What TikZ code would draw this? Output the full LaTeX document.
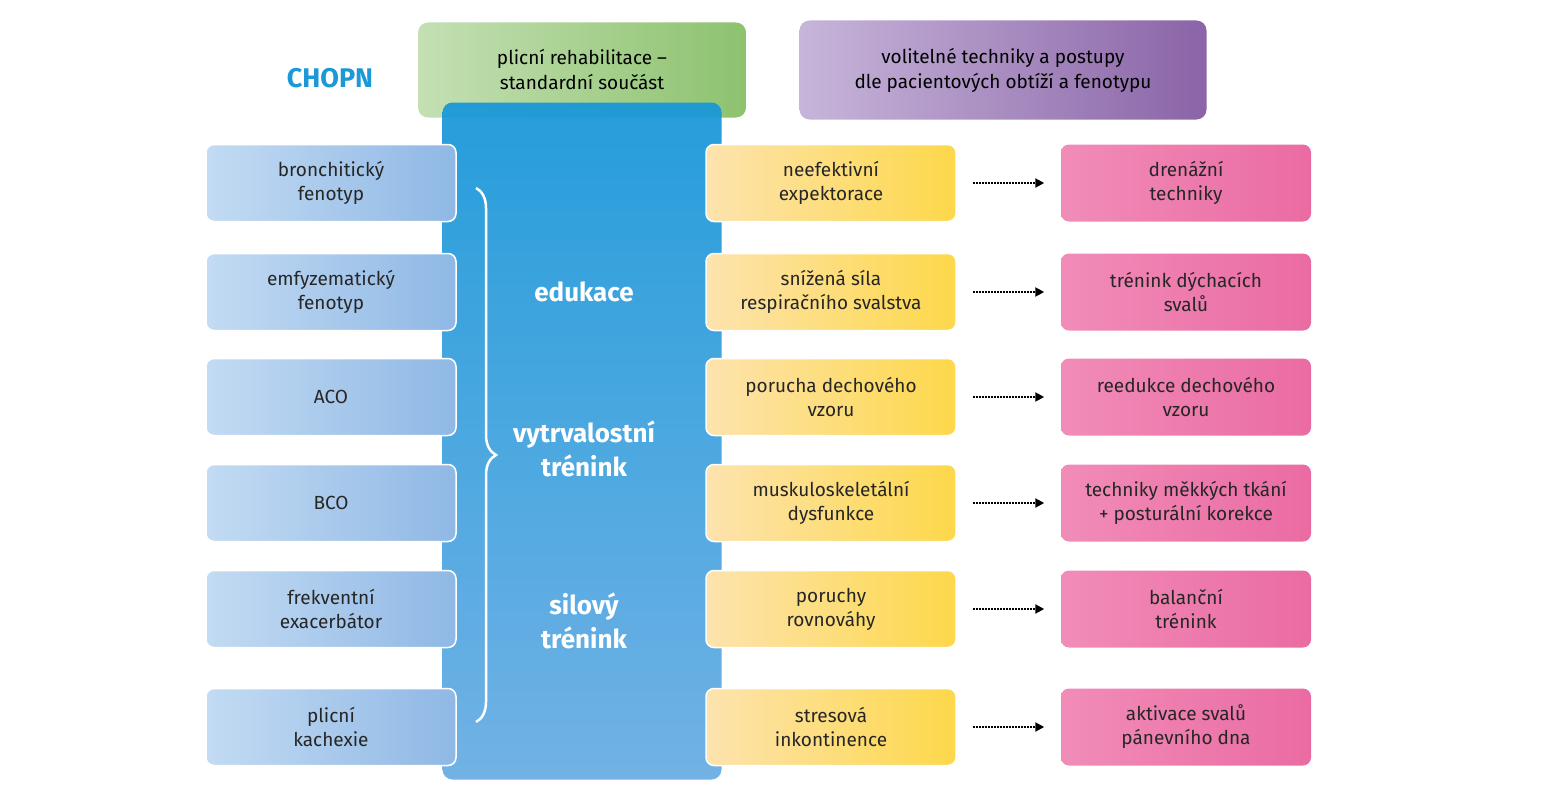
\documentclass[tikz,border=0pt]{standalone}
\usepackage{fontspec}
\setmainfont{Fira Sans}
\usetikzlibrary{decorations.pathreplacing,arrows.meta}
\definecolor{cblue}{HTML}{1A98D8}
\definecolor{cblue2}{HTML}{6AAEE4}
\definecolor{lb1}{HTML}{C3DBF3}
\definecolor{lb2}{HTML}{8FB8E5}
\definecolor{yb1}{HTML}{FDE3AE}
\definecolor{yb2}{HTML}{FDD84A}
\definecolor{pb1}{HTML}{F18CB8}
\definecolor{pb2}{HTML}{EA6BA2}
\definecolor{gb1}{HTML}{C4E0B4}
\definecolor{gb2}{HTML}{8DC26E}
\definecolor{vb1}{HTML}{C7B5DA}
\definecolor{vb2}{HTML}{8A64A7}
\tikzset{
 box/.style={rounded corners=8pt,draw=white,line width=1.5pt,minimum width=250pt,minimum height=77pt,align=center,font=\fontsize{19}{24}\selectfont,text=black!85},
 lb/.style={box,left color=lb1,right color=lb2},
 yb/.style={box,left color=yb1,right color=yb2},
 pb/.style={box,draw=none,left color=pb1,right color=pb2},
 ct/.style={text=white,font=\bfseries\fontsize{26}{34}\selectfont,align=center},
 dar/.style={densely dotted,line width=2pt,-{Triangle[length=9pt,width=9pt]}}
}
\begin{document}
\begin{tikzpicture}[x=1pt,y=-1pt]
\useasboundingbox (0,0) rectangle (1559,800);
\node[text=cblue,font=\bfseries\fontsize{27}{30}\selectfont] (t) at (330,78) {CHOPN};
\node[rounded corners=10pt,minimum width=328pt,minimum height=95pt,left color=gb1,right color=gb2,align=center,font=\fontsize{19}{25}\selectfont] (g) at (582,70) {plicní rehabilitace –\\standardní součást};
\node[rounded corners=10pt,minimum width=407pt,minimum height=99pt,left color=vb1,right color=vb2,align=center,font=\fontsize{19}{25}\selectfont] (p) at (1003,70) {volitelné techniky a postupy\\dle pacientových obtíží a fenotypu};
\node[rounded corners=10pt,minimum width=279pt,minimum height=677pt,top color=cblue,bottom color=cblue2,opacity=0.95] (c) at (582,441) {};
\node[ct] (e1) at (584,292) {edukace};
\node[ct] (e2) at (584,449) {vytrvalostní\\trénink};
\node[ct] (e3) at (584,621) {silový\\trénink};
\draw[white,line width=2.5pt,decoration={brace,amplitude=20pt},decorate] (476,188) -- (476,722);
\foreach \y/\a/\b/\cc/\i in {
 183/{bronchitický\\fenotyp}/{neefektivní\\expektorace}/{drenážní\\techniky}/1,
 292/{emfyzematický\\fenotyp}/{snížená síla\\respiračního svalstva}/{trénink dýchacích\\svalů}/2,
 397/{ACO}/{porucha dechového\\vzoru}/{reedukce dechového\\vzoru}/3,
 503/{BCO}/{muskuloskeletální\\dysfunkce}/{techniky měkkých tkání\\+ posturální korekce}/4,
 609/{frekventní\\exacerbátor}/{poruchy\\rovnováhy}/{balanční\\trénink}/5,
 727/{plicní\\kachexie}/{stresová\\inkontinence}/{aktivace svalů\\pánevního dna}/6}{
 \node[lb] (l\i) at (331,\y) {\a};
 \node[yb] (m\i) at (831,\y) {\b};
 \node[pb] (r\i) at (1186,\y) {\cc};
 \draw[dar] ([xshift=16pt]m\i.east) -- ([xshift=-16pt]r\i.west);
}
\end{tikzpicture}
\end{document}
